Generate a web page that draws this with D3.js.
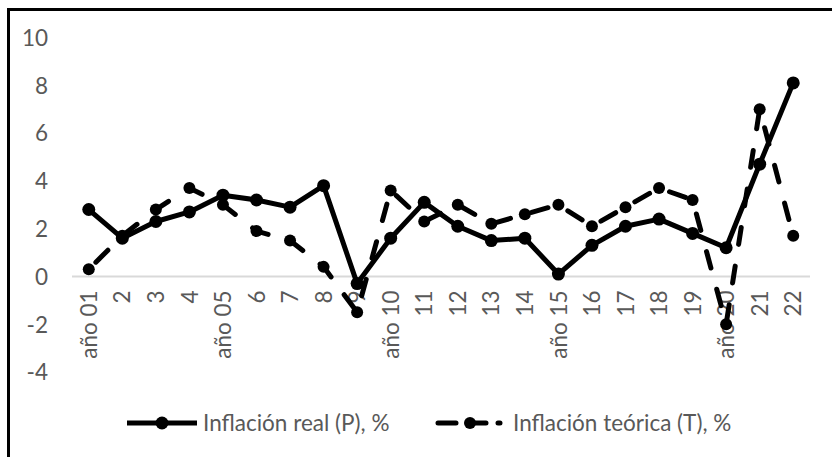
<!DOCTYPE html>
<html><head><meta charset="utf-8">
<script src="https://cdn.jsdelivr.net/npm/d3@7"></script>
<style>
html,body{margin:0;padding:0;background:#fff;}
svg{display:block;}
text{font-family:Lato,"Open Sans",sans-serif;fill:#595959;}
</style></head>
<body>
<script>
const categories = ["año 01","2","3","4","año 05","6","7","8","9","año 10","11","12","13","14","año 15","16","17","18","19","año 20","21","22"];
const real = [2.8,1.6,2.3,2.7,3.4,3.2,2.9,3.8,-0.3,1.6,3.1,2.1,1.5,1.6,0.1,1.3,2.1,2.4,1.8,1.2,4.7,8.1];
const teorica = [0.3,1.7,2.8,3.7,3.0,1.9,1.5,0.4,-1.5,3.6,2.3,3.0,2.2,2.6,3.0,2.1,2.9,3.7,3.2,-2.0,7.0,1.7];
const yTicks = [-4,-2,0,2,4,6,8,10];
const seriesNames = ["Inflación real (P), %","Inflación teórica (T), %"];

const W = 832, H = 457;
const FS = 22.5;
const svg = d3.select("body").append("svg").attr("width",W).attr("height",H);

// outer frame
svg.append("rect").attr("x",8.5).attr("y",9.5).attr("width",W+10).attr("height",H+10)
  .attr("fill","none").attr("stroke","#000").attr("stroke-width",3);

const x = d3.scaleBand().domain(categories).range([72,810]);
const y = d3.scaleLinear().domain([-4,10]).range([372,37.5]);
const cx = d => x(d) + x.bandwidth()/2;

// y axis labels
const yAxis = d3.axisLeft(y).tickValues(yTicks).tickSize(0).tickPadding(0).tickFormat(d => String(d));
const gy = svg.append("g").attr("transform","translate(48,0)").call(yAxis);
gy.select(".domain").remove();
gy.selectAll("text").attr("font-size",FS).attr("font-family","Lato").attr("fill","#595959").attr("dy","0.35em");

// zero line
svg.append("line").attr("x1",72).attr("x2",810).attr("y1",y(0)).attr("y2",y(0))
  .attr("stroke","#d9d9d9").attr("stroke-width",2);

// x axis labels
const xAxis = d3.axisBottom(x).tickSize(0).tickPadding(0);
const gx = svg.append("g").attr("transform",`translate(0,${y(0)})`).call(xAxis);
gx.select(".domain").remove();
gx.selectAll("text")
  .attr("font-size",FS).attr("font-family","Lato").attr("fill","#595959")
  .attr("text-anchor","end")
  .attr("transform","rotate(-90)")
  .attr("x",-14).attr("y",0).attr("dy","0.36em");

const line = d3.line().x((d,i)=>cx(categories[i])).y(d=>y(d));

// real series
svg.append("path").datum(real).attr("d",line).attr("fill","none")
  .attr("stroke","#000").attr("stroke-width",5).attr("stroke-linejoin","round");
svg.append("g").selectAll("circle").data(real).join("circle")
  .attr("cx",(d,i)=>cx(categories[i])).attr("cy",d=>y(d)).attr("r",6.5).attr("fill","#000");

// theoretical series
svg.append("path").datum(teorica).attr("d",line).attr("fill","none")
  .attr("stroke","#000").attr("stroke-width",5).attr("stroke-linecap","round")
  .attr("stroke-dasharray","17,22").attr("stroke-dashoffset",-10);
svg.append("g").selectAll("circle").data(teorica).join("circle")
  .attr("cx",(d,i)=>cx(categories[i])).attr("cy",d=>y(d)).attr("r",6).attr("fill","#000");

// legend
const ly = 423;
const lg = svg.append("g");
lg.append("line").attr("x1",127).attr("x2",197).attr("y1",ly).attr("y2",ly)
  .attr("stroke","#000").attr("stroke-width",5);
lg.append("circle").attr("cx",162).attr("cy",ly).attr("r",6.5).attr("fill","#000");
lg.append("text").attr("x",203).attr("y",ly).attr("dy","0.35em").attr("font-size",FS).text(seriesNames[0]);

lg.append("line").attr("x1",438).attr("x2",500).attr("y1",ly).attr("y2",ly)
  .attr("stroke","#000").attr("stroke-width",5).attr("stroke-linecap","round")
  .attr("stroke-dasharray","18,12");
lg.append("circle").attr("cx",470).attr("cy",ly).attr("r",6).attr("fill","#000");
lg.append("text").attr("x",513).attr("y",ly).attr("dy","0.35em").attr("font-size",FS).text(seriesNames[1]);
</script>
</body></html>
